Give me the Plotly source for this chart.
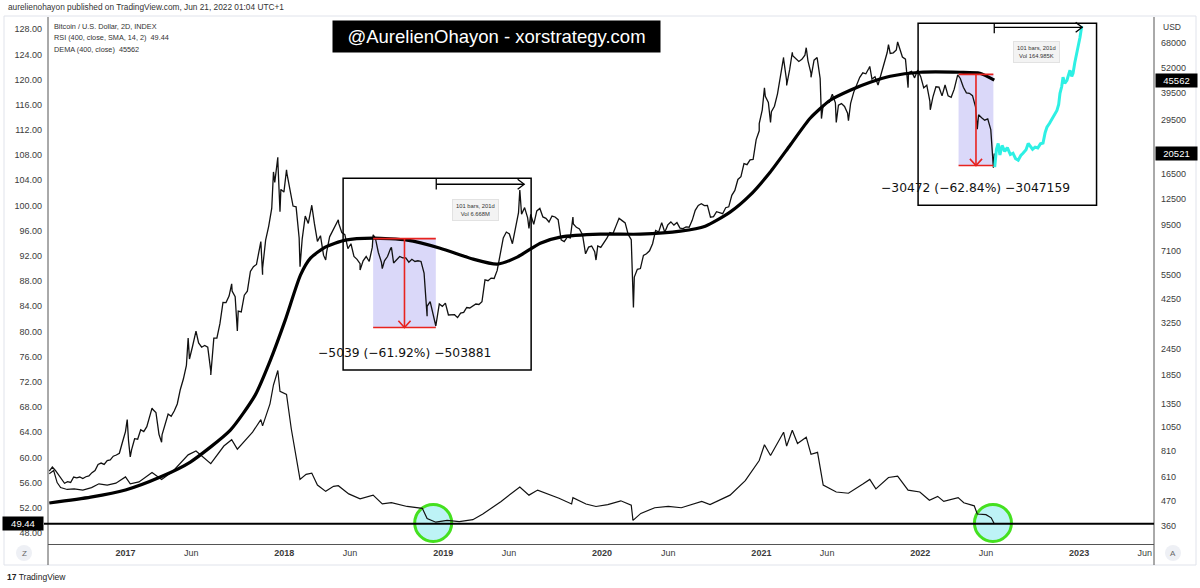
import numpy as np
import pandas as pd
import plotly.graph_objects as go

W, H = 1200, 588
ML, MR, MT, MB = 48, 46, 17, 44

# ------------------------------------------------------------------ data
# BTC/USD weekly closes (one value per week from week_start)
week_start = "2016-07-10"
weekly_close = [
    # 2016
    650, 680, 655, 625, 590, 570, 580, 575, 610, 605, 610, 600, 612, 617, 640, 655, 700,
    710, 700, 730, 735, 765, 775, 790, 890,
    # 2017
    1000, 905, 820, 925, 920, 1020, 1000, 1055, 1180, 1270, 1230, 970, 965, 1090, 1210, 1180,
    1250, 1350, 1580, 1770, 2050, 2200, 2520, 2960, 2620, 2500, 2550, 2500, 1930, 2760, 2760,
    3230, 4070, 4060, 4360, 4600, 4330, 3700, 3670, 4400, 4600, 5700, 6000, 6150, 7400, 5900,
    8000, 9300, 11300, 15000, 19000, 13900, 13500,
    # 2018
    16500, 13700, 11600, 11500, 8200, 8100, 10400, 9600, 11400, 9600, 7900, 8400, 6800, 7000,
    8300, 8900, 9400, 9600, 8700, 8500, 7300, 7700, 6700, 6500, 6200, 6400, 6700, 6350, 7400,
    8200, 7000, 6300, 6400, 6700, 7300, 6250, 6500, 6700, 6600, 6600, 6300, 6500, 6350, 6400,
    6350, 5600, 3900, 4100, 3550, 3250, 4000, 3900,
    # 2019
    4040, 3550, 3560, 3560, 3450, 3620, 3650, 3850, 3830, 3920, 4000, 3980, 4100, 5200, 5150,
    5300, 5280, 5760, 7000, 8200, 8740, 8560, 7700, 8980, 10800, 10600, 11400, 10200, 10600,
    9500, 11000, 11300, 10300, 10140, 9750, 10400, 10300, 10000, 8040, 7880, 8280, 8200, 9550,
    9200, 9040, 8500, 6900, 7420, 7510, 7070, 7510, 7400,
    # 2020
    7750, 8180, 8700, 8600, 9350, 10150, 9900, 9660, 8520, 8040, 5360, 5830, 5880, 6780, 6900,
    7130, 7700, 8900, 8750, 9680, 8720, 9450, 9760, 9430, 9690, 9120, 9080, 9250, 9210, 9930,
    11070, 11680, 11900, 11660, 11680, 10270, 10330, 10900, 10780, 10670, 11390, 11500, 13030,
    13740, 15480, 15970, 18400, 18180, 19170, 19270, 23860, 26270,
    # 2021
    33000, 38200, 35800, 32300, 34300, 39250, 48700, 57400, 45200, 51200, 59400, 57500, 55800,
    57100, 59800, 56200, 49100, 56600, 58200, 46400, 34700, 35700, 35800, 39100, 35600, 34700,
    35300, 34250, 31800, 35400, 39900, 43800, 47000, 49300, 48800, 51800, 46100, 47300, 43200,
    48200, 54700, 61500, 60900, 61300, 63300, 65500, 58600, 57200, 49400, 50100, 46700, 50800,
    # 2022
    47300, 41900, 43100, 36300, 37900, 42400, 42200, 38400, 43200, 38400, 37800, 41300, 46800,
    46400, 42200, 39700, 39500, 38500, 34100, 31300, 30300, 29500, 29900, 26600, 20500,
]

# intra-week extremes (wicks)
spike_dates = [
    "2017-01-05", "2017-01-12", "2017-03-03", "2017-03-25", "2017-05-25", "2017-06-12",
    "2017-07-16", "2017-09-02", "2017-09-15", "2017-11-08", "2017-11-12", "2017-12-07",
    "2017-12-17", "2017-12-22", "2018-01-06", "2018-02-06", "2018-03-05", "2018-04-06",
    "2018-05-05", "2018-06-24", "2018-07-24", "2018-08-14", "2018-09-04", "2018-11-25",
    "2018-12-15", "2019-06-26", "2019-07-17", "2019-10-26", "2019-12-18", "2020-03-13",
    "2020-12-27", "2021-01-08", "2021-01-22", "2021-02-21", "2021-02-28", "2021-03-13",
    "2021-04-14", "2021-04-25", "2021-05-19", "2021-06-22", "2021-07-20", "2021-09-07",
    "2021-10-20", "2021-11-10", "2021-12-04", "2022-01-24", "2022-03-28", "2022-05-12",
    "2022-06-18", "2022-06-20",
]
spike_prices = [
    1140, 760, 1290, 890, 2760, 2980,
    1850, 4980, 2980, 7880, 5500, 16800,
    19700, 10900, 17200, 6000, 11700, 6450,
    9990, 5780, 8480, 5880, 7400, 3500,
    3150, 13800, 9100, 10300, 6450, 3850,
    28400, 41900, 28800, 58300, 43000, 61700,
    64800, 47000, 30000, 28800, 29300, 52900,
    67000, 69000, 42000, 33000, 48200, 26700,
    17600, 20521,
]

# DEMA (400, close)
dema_dates = [
    "2016-07-10", "2016-10-13", "2017-01-01", "2017-03-22", "2017-05-30", "2017-08-30",
    "2017-10-26", "2017-11-30", "2018-01-03", "2018-02-07", "2018-03-02", "2018-04-05",
    "2018-05-21", "2018-07-24", "2018-10-10", "2018-12-25", "2019-03-11", "2019-05-05",
    "2019-06-20", "2019-08-12", "2019-09-27", "2019-12-28", "2020-03-29", "2020-06-29",
    "2020-08-25", "2020-10-21", "2020-12-06", "2021-01-21", "2021-03-08", "2021-04-23",
    "2021-06-08", "2021-07-24", "2021-09-08", "2021-10-24", "2022-01-01", "2022-04-02",
    "2022-05-18", "2022-06-20",
]
dema_values = [
    460, 490, 530, 610, 718, 1016,
    1486, 2174, 3357, 5473, 6580, 7418,
    8005, 8180, 8005, 7336, 6511, 6166,
    6655, 7745, 8270, 8540, 8540, 8825,
    9320, 10850, 13050, 16750, 22460, 30110,
    36610, 40810, 44510, 47510, 49630, 49630,
    49100, 45562,
]

# RSI (400, close)
rsi_dates = [
    "2016-07-10", "2016-07-20", "2016-07-28", "2016-08-05", "2016-08-20", "2016-09-05",
    "2016-09-25", "2016-10-15", "2016-11-01", "2016-11-20", "2016-12-10", "2017-01-01",
    "2017-01-12", "2017-02-01", "2017-03-03", "2017-03-25", "2017-04-20", "2017-05-25",
    "2017-06-12", "2017-07-16", "2017-08-15", "2017-09-02", "2017-09-15", "2017-10-20",
    "2017-11-08", "2017-11-12", "2017-11-29", "2017-12-07", "2017-12-17", "2017-12-22",
    "2018-01-06", "2018-01-17", "2018-02-06", "2018-02-20", "2018-03-05", "2018-03-18",
    "2018-04-06", "2018-04-24", "2018-05-05", "2018-05-29", "2018-06-24", "2018-07-24",
    "2018-08-14", "2018-09-04", "2018-10-10", "2018-11-14", "2018-11-25", "2018-12-15",
    "2019-01-10", "2019-02-07", "2019-03-10", "2019-04-02", "2019-05-14", "2019-06-26",
    "2019-07-17", "2019-08-06", "2019-09-24", "2019-10-23", "2019-10-26", "2019-11-25",
    "2019-12-18", "2020-01-14", "2020-02-13", "2020-03-08", "2020-03-12", "2020-03-30",
    "2020-05-01", "2020-06-01", "2020-07-01", "2020-08-17", "2020-09-05", "2020-10-21",
    "2020-11-25", "2020-12-27", "2021-01-08", "2021-01-22", "2021-02-21", "2021-02-28",
    "2021-03-13", "2021-03-25", "2021-04-14", "2021-04-25", "2021-05-10", "2021-05-23",
    "2021-06-22", "2021-07-20", "2021-08-23", "2021-09-07", "2021-09-21", "2021-10-20",
    "2021-11-10", "2021-12-04", "2021-12-31", "2022-01-22", "2022-02-10", "2022-02-24",
    "2022-03-29", "2022-04-11", "2022-05-05", "2022-05-12", "2022-06-01", "2022-06-13",
    "2022-06-20",
]
rsi_values = [
    57.4, 57.9, 56.0, 55.2, 54.9, 55.0,
    54.8, 55.2, 55.8, 55.6, 55.9, 56.9,
    55.8, 56.1, 57.6, 56.5, 57.8, 60.4,
    61.0, 59.0, 61.8, 62.8, 61.3, 64.0,
    66.0, 65.0, 68.5, 71.5, 73.8, 70.5,
    70.0, 64.5, 56.5, 57.3, 57.5, 55.6,
    54.6, 55.4, 55.5, 54.2, 53.4, 54.0,
    52.6, 52.8, 52.2, 51.9, 50.3, 49.7,
    50.0, 49.8, 50.1, 51.0, 53.0, 55.3,
    54.0, 54.8, 53.5, 52.6, 53.6, 52.6,
    52.2, 52.5, 53.1, 52.4, 50.0, 51.1,
    52.0, 52.2, 52.0, 53.0, 52.5, 54.0,
    56.3, 59.5, 62.0, 60.3, 64.0, 61.8,
    64.3, 62.2, 63.2, 60.5, 60.8, 55.6,
    54.5, 54.3, 55.8, 56.5, 55.0, 56.8,
    57.0, 54.8, 54.5, 53.2, 53.8, 53.0,
    53.6, 52.8, 52.3, 51.0, 50.9, 50.4,
    49.44,
]

# cyan projection (copied bars pattern)
proj_dates = [
    "2022-06-21", "2022-06-25", "2022-06-29", "2022-07-03", "2022-07-08", "2022-07-14",
    "2022-07-20", "2022-07-27", "2022-08-02", "2022-08-08", "2022-08-14", "2022-08-20",
    "2022-08-25", "2022-09-01", "2022-09-06", "2022-09-10", "2022-09-16", "2022-09-22",
    "2022-09-28", "2022-10-04", "2022-10-10", "2022-10-15", "2022-10-19", "2022-10-25",
    "2022-11-02", "2022-11-07", "2022-11-11", "2022-11-15", "2022-11-18", "2022-11-22",
    "2022-11-25", "2022-11-29", "2022-12-04", "2022-12-08", "2022-12-11", "2022-12-15",
    "2022-12-18", "2022-12-22", "2022-12-27", "2022-12-31", "2023-01-03", "2023-01-07",
]
proj_values = [
    17700, 21500, 22900, 20200, 22400, 21000,
    21900, 20300, 20600, 19400, 19100, 20100,
    20600, 21400, 22900, 22300, 21500, 22000,
    21800, 22800, 23000, 25800, 27300, 28500,
    30400, 31500, 32800, 35000, 39500, 42500,
    47000, 44000, 45500, 48500, 50700, 47500,
    49100, 55000, 61000, 66000, 72600, 82000,
]

rsi_level = 49.44
last_price = 20521
last_dema = 45562

price_ticks = [360, 470, 610, 810, 1050, 1350, 1850, 2450, 3250, 4250, 5500, 7100, 9500,
               12500, 16500, 29500, 39500, 52000, 68000]
rsi_ticks = [48, 52, 56, 60, 64, 68, 72, 76, 80, 84, 88, 92, 96, 100, 104, 108, 112, 116,
             120, 124, 128]
time_ticks = ["2017-01-01", "2017-06-01", "2018-01-01", "2018-06-01", "2019-01-01", "2019-06-01",
              "2020-01-01", "2020-06-01", "2021-01-01", "2021-06-01", "2022-01-01", "2022-06-01",
              "2023-01-01", "2023-06-01"]
time_labels = ["2017", "Jun", "2018", "Jun", "2019", "Jun", "2020", "Jun", "2021", "Jun",
               "2022", "Jun", "2023", "Jun"]

# price-range measurements and bar-range tools drawn on the chart
measures = [
    dict(start="2018-07-24", end="2018-12-15", top=8138, bottom=3099,
         text="\u22125039 (\u221261.92%) \u2212503881"),
    dict(start="2022-03-30", end="2022-06-18", top=48492, bottom=18020,
         text="\u221230472 (\u221262.84%) \u22123047159"),
]
bar_ranges = [
    dict(start="2018-12-16", end="2019-07-06", label="101 bars, 201d<br>Vol 6.668M"),
    dict(start="2022-06-20", end="2023-01-08", label="101 bars, 201d<br>Vol 164.985K"),
]
circle_dates = ["2018-12-09", "2022-06-17"]

# ------------------------------------------------------------------ layout helpers
PW, PH = W - ML - MR, H - MT - MB
def PX(x):
    return (x - ML) / PW
def PY(y):
    return (H - MB - y) / PH

# placement of the drawn boxes (screen geometry of the drawings)
box_geo = [
    dict(x0="2018-05-16", x1="2019-07-22", y0=1950, y1=15700, arrow_y=14700, tick_hi=15700,
         tick_lo=13870, lab_x="2019-03-17", lab_y=11090, txt_y=2346),
    dict(x0="2021-12-27", x1="2023-02-10", y0=11710, y1=84500, arrow_y=80900, tick_hi=84500,
         tick_lo=75800, lab_x="2022-09-26", lab_y=61660, txt_y=14080),
]

FONT = "Liberation Sans, Arial, sans-serif"
TXT = "#3b3b3b"

fig = go.Figure()

# RSI line (left scale)
fig.add_trace(go.Scatter(x=pd.to_datetime(rsi_dates), y=rsi_values, mode="lines",
                         line=dict(color="#111111", width=1.2), yaxis="y", hoverinfo="skip"))

# price line (right scale)
wk_dates = pd.date_range(week_start, periods=len(weekly_close), freq="7D")
price = pd.Series(weekly_close, index=wk_dates)
spikes = pd.Series(spike_prices, index=pd.to_datetime(spike_dates))
price = pd.concat([price, spikes]).sort_index()
fig.add_trace(go.Scatter(x=price.index, y=price.values, mode="lines",
                         line=dict(color="#111111", width=1.3), yaxis="y2", hoverinfo="skip"))

# DEMA
fig.add_trace(go.Scatter(x=pd.to_datetime(dema_dates), y=dema_values, mode="lines",
                         line=dict(color="#000000", width=3.2, shape="spline", smoothing=0.6),
                         yaxis="y2", hoverinfo="skip"))

# projection
fig.add_trace(go.Scatter(x=pd.to_datetime(proj_dates), y=proj_values, mode="lines",
                         line=dict(color="#2ef0e4", width=3), yaxis="y2", hoverinfo="skip"))

shapes = []
annotations = []

# outer light frame + separators
shapes.append(dict(type="rect", xref="paper", yref="paper", x0=PX(4), x1=PX(1196),
                   y0=PY(565), y1=PY(16), line=dict(color="#e0e3eb", width=1), layer="below"))
shapes.append(dict(type="line", xref="paper", yref="paper", x0=0, x1=0, y0=PY(565), y1=1,
                   line=dict(color="#555555", width=1)))
shapes.append(dict(type="line", xref="paper", yref="paper", x0=1, x1=1, y0=PY(565), y1=1,
                   line=dict(color="#555555", width=1)))

# RSI horizontal level
shapes.append(dict(type="line", xref="paper", yref="y", x0=PX(44), x1=1, y0=rsi_level,
                   y1=rsi_level, line=dict(color="#000000", width=2)))

# green circles
for d in circle_dates:
    shapes.append(dict(type="circle", xref="x", yref="y", xsizemode="pixel", ysizemode="pixel",
                       xanchor=d, yanchor=rsi_level + 0.15, x0=-18.5, x1=18.5, y0=-18.5, y1=18.5,
                       fillcolor="#bdf3f6", line=dict(color="#45e01f", width=3), layer="below"))

RED = "#e8231f"
for m, g, b in zip(measures, box_geo, bar_ranges):
    mid = pd.Timestamp(m["start"]) + (pd.Timestamp(m["end"]) - pd.Timestamp(m["start"])) / 2
    mid_s = mid.strftime("%Y-%m-%d")
    # lavender range
    shapes.append(dict(type="rect", xref="x", yref="y2", x0=m["start"], x1=m["end"],
                       y0=m["bottom"], y1=m["top"], fillcolor="rgba(120,110,232,0.27)",
                       line=dict(width=0), layer="below"))
    for yv in (m["top"], m["bottom"]):
        shapes.append(dict(type="line", xref="x", yref="y2", x0=m["start"], x1=m["end"],
                           y0=yv, y1=yv, line=dict(color=RED, width=1.6)))
    shapes.append(dict(type="line", xref="x", yref="y2", x0=mid_s, x1=mid_s,
                       y0=m["top"], y1=m["bottom"], line=dict(color=RED, width=1.6)))
    l = (mid - pd.Timedelta(days=14)).strftime("%Y-%m-%d")
    r = (mid + pd.Timedelta(days=14)).strftime("%Y-%m-%d")
    hv = m["bottom"] * 1.075
    shapes.append(dict(type="path", xref="x", yref="y2",
                       path=f"M{l},{hv} L{mid_s},{m['bottom']} L{r},{hv}",
                       line=dict(color=RED, width=1.6)))
    annotations.append(dict(x=mid_s, y=np.log10(g["txt_y"]), xref="x", yref="y2",
                            text=m["text"], showarrow=False, yanchor="middle",
                            font=dict(family="DejaVu Sans", size=12.3, color="#111111")))
    # black box
    shapes.append(dict(type="rect", xref="x", yref="y2", x0=g["x0"], x1=g["x1"], y0=g["y0"],
                       y1=g["y1"], line=dict(color="#000000", width=1.5)))
    # bar-range arrow
    shapes.append(dict(type="line", xref="x", yref="y2", x0=b["start"], x1=b["end"],
                       y0=g["arrow_y"], y1=g["arrow_y"], line=dict(color="#000000", width=1.3)))
    shapes.append(dict(type="line", xref="x", yref="y2", x0=b["start"], x1=b["start"],
                       y0=g["tick_lo"], y1=g["tick_hi"], line=dict(color="#000000", width=1.3)))
    e = pd.Timestamp(b["end"])
    el = (e - pd.Timedelta(days=15)).strftime("%Y-%m-%d")
    shapes.append(dict(type="path", xref="x", yref="y2",
                       path=f"M{el},{g['arrow_y'] * 1.055} L{b['end']},{g['arrow_y']} "
                            f"L{el},{g['arrow_y'] / 1.055}",
                       line=dict(color="#000000", width=1.3)))
    annotations.append(dict(x=g["lab_x"], y=np.log10(g["lab_y"]), xref="x", yref="y2",
                            text=b["label"], showarrow=False, align="center", yanchor="middle",
                            font=dict(family=FONT, size=5.8, color="#333333"),
                            bgcolor="#f3f3f3", bordercolor="#e2e2e2", borderwidth=1,
                            borderpad=3))

# banner
annotations.append(dict(x=PX(496.5), y=PY(36.5), xref="paper", yref="paper",
                        xanchor="center", yanchor="middle",
                        text="@AurelienOhayon - xorstrategy.com", showarrow=False,
                        font=dict(family=FONT, size=18.5, color="#ffffff"),
                        bgcolor="#000000", width=325, height=29, borderpad=1))

# header / legend texts
annotations.append(dict(x=PX(6), y=PY(7.5), xref="paper", yref="paper", xanchor="left",
                        yanchor="middle",
                        text="aurelienohayon published on TradingView.com, Jun 21, 2022 01:04 UTC+1",
                        showarrow=False, font=dict(family=FONT, size=8.3, color="#333333")))
for yy, t in [(26, "Bitcoin / U.S. Dollar, 2D, INDEX"),
              (38, f"RSI (400, close, SMA, 14, 2)  {rsi_level:.2f}"),
              (49.5, f"DEMA (400, close)  {last_dema}")]:
    annotations.append(dict(x=PX(52), y=PY(yy), xref="paper", yref="paper", xanchor="left",
                            yanchor="middle", text=t, showarrow=False,
                            font=dict(family=FONT, size=7.3, color="#333333")))

# axis badges
annotations.append(dict(x=1, y=np.log10(last_dema), xref="paper", yref="y2", xanchor="left",
                        yanchor="middle", xshift=1, text=str(last_dema), showarrow=False,
                        bgcolor="#000000", width=39, height=11, borderpad=1,
                        font=dict(family=FONT, size=9.5, color="#ffffff")))
annotations.append(dict(x=1, y=np.log10(last_price), xref="paper", yref="y2", xanchor="left",
                        yanchor="middle", xshift=1, text=str(last_price), showarrow=False,
                        bgcolor="#000000", width=39, height=11, borderpad=1,
                        font=dict(family=FONT, size=9.5, color="#ffffff")))
annotations.append(dict(x=0, y=rsi_level, xref="paper", yref="y", xanchor="right",
                        yanchor="middle", xshift=-4, text=f"{rsi_level:.2f}", showarrow=False,
                        bgcolor="#000000", width=38, height=11, borderpad=1,
                        font=dict(family=FONT, size=9.5, color="#ffffff")))
annotations.append(dict(x=PX(1161), y=PY(27), xref="paper", yref="paper", xanchor="left",
                        yanchor="middle", text="USD", showarrow=False,
                        font=dict(family=FONT, size=8.5, color=TXT)))

# Z / A buttons and footer
for cx, letter in [(24, "Z"), (1173, "A")]:
    shapes.append(dict(type="circle", xref="paper", yref="paper", x0=PX(cx - 8), x1=PX(cx + 8),
                       y0=PY(553 + 8), y1=PY(553 - 8), fillcolor="#eef0f5",
                       line=dict(width=0)))
    annotations.append(dict(x=PX(cx), y=PY(553), xref="paper", yref="paper", text=letter,
                            xanchor="center", yanchor="middle", showarrow=False,
                            font=dict(family=FONT, size=8, color="#666666")))
annotations.append(dict(x=PX(5), y=PY(577), xref="paper", yref="paper", xanchor="left",
                        yanchor="middle", text="<b>17</b> TradingView", showarrow=False,
                        font=dict(family=FONT, size=8.5, color="#222222")))

fig.update_layout(
    width=W, height=H,
    margin=dict(l=ML, r=MR, t=MT, b=MB),
    paper_bgcolor="#ffffff", plot_bgcolor="#ffffff",
    showlegend=False,
    shapes=shapes, annotations=annotations,
    xaxis=dict(type="date", range=["2016-07-07", "2023-06-22"], showgrid=False,
               zeroline=False, showline=True, linecolor="#555555", linewidth=1,
               tickvals=pd.to_datetime(time_ticks),
               ticktext=[f"<b>{t}</b>" if t != "Jun" else t for t in time_labels],
               ticks="", tickfont=dict(family=FONT, size=9, color=TXT)),
    yaxis=dict(range=[46.24, 129.94], side="left", showgrid=False, zeroline=False,
               showline=False, tickvals=rsi_ticks, ticktext=[f"{v:.2f}" for v in rsi_ticks],
               ticks="", ticklabelstandoff=5, tickfont=dict(family=FONT, size=9, color=TXT)),
    yaxis2=dict(type="log", range=[2.4693, 4.9566], side="right", overlaying="y",
                showgrid=False, zeroline=False, showline=False, tickvals=price_ticks,
                ticktext=[str(v) for v in price_ticks], ticks="", ticklabelstandoff=6,
                tickfont=dict(family=FONT, size=9, color=TXT)),
)

fig.write_html("out.html")
